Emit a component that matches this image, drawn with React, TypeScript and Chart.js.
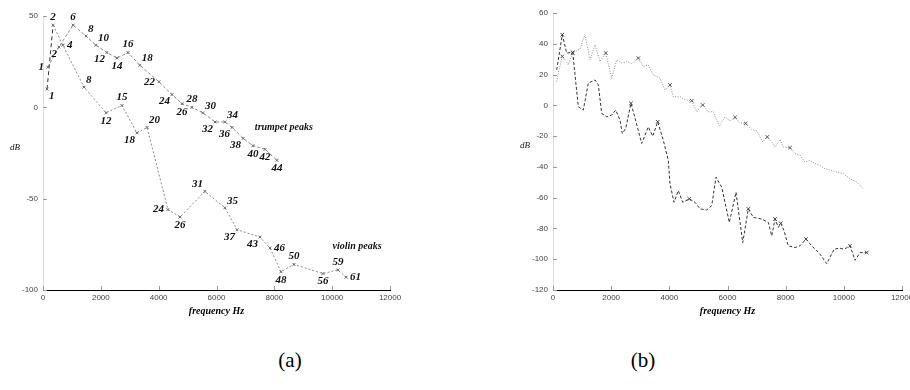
import React, { useEffect, useRef } from "react";
import { Chart, registerables } from "chart.js";
Chart.register(...registerables);

// ---------- (a) peak tracks ----------
const trumpetAFreq = [170, 550, 1040, 1490, 1830, 2210, 2560, 2940, 3350, 4010, 4460, 4810, 5150, 5530, 5950, 6290, 6540, 6920, 7260, 7680, 8090];
const trumpetADb = [22, 33, 45, 39, 34, 30, 27, 30, 23, 14, 7, 2, 0, -3, -8, -8, -11, -17, -21, -23, -29];
const trumpetAPeak = [1, 2, 6, 8, 10, 12, 14, 16, 18, 22, 24, 26, 28, 30, 32, 34, 36, 38, 40, 42, 44];
const trumpetASide = ["l", "bl", "a", "ar", "ar", "bl", "b", "a", "ar", "l", "bl", "b", "a", "ar", "bl", "ar", "bl", "bl", "b", "b", "b"];

const violinAFreq = [140, 350, 690, 1420, 2180, 2730, 3250, 3600, 4320, 4740, 5600, 6290, 6710, 7500, 7850, 8230, 8680, 9680, 10200, 10480];
const violinADb = [10, 45, 34, 11, -3, 1, -14, -11, -56, -60, -46, -55, -67, -71, -77, -90, -86, -91, -89, -93];
const violinAPeak = [1, 2, 4, 8, 12, 15, 18, 20, 24, 26, 31, 35, 37, 43, 46, 48, 50, 56, 59, 61];
const violinASide = ["br", "a", "r", "ar", "b", "a", "bl", "ar", "l", "b", "al", "ar", "bl", "bl", "r", "b", "a", "b", "a", "r"];

const seriesNamesA = ["trumpet peaks", "violin peaks"];
const seriesNameFreqA = [8330, 10860];
const seriesNameDbA = [-11, -76];

// ---------- (b) spectra ----------
const trumpetBFreq = [127, 206, 320, 413, 526, 677, 757, 928, 1100, 1272, 1444, 1616, 1812, 2019, 2191, 2362, 2534, 2706, 2933, 3105, 3277, 3449, 3680, 3851, 4023, 4137, 4367, 4539, 4770, 4942, 5148, 5341, 5512, 5719, 5915, 6087, 6259, 6431, 6627, 6833, 7005, 7211, 7369, 7521, 7634, 7806, 7920, 8150, 8322, 8494, 8666, 8838, 9010, 9181, 9353, 9584, 9756, 9983, 10213, 10444, 10671];
const trumpetBDb = [15.4, 23.1, 31.8, 29.6, 26.3, 34, 35, 36.6, 46, 29.6, 39.4, 28.5, 34, 17.6, 29.6, 27.5, 28.5, 27, 30.7, 25.2, 26.3, 19.8, 17.6, 10, 13.3, 5.6, 5.6, 3.5, 3, -4.2, 0.2, -4.2, -4.2, -13.5, -7.5, -10.1, -7.8, -11.4, -11.8, -15.7, -16.6, -23.8, -20.5, -23.8, -27.1, -22.2, -27.1, -27.5, -31.4, -32.5, -36.9, -35.8, -37.9, -39, -41.2, -42.3, -43.4, -44.4, -47.7, -49.9, -54.2];
const trumpetBMark = [0, 0, 1, 0, 0, 1, 0, 0, 0, 0, 0, 0, 1, 0, 0, 0, 0, 0, 1, 0, 0, 0, 0, 0, 1, 0, 0, 0, 1, 0, 1, 0, 0, 0, 0, 0, 1, 0, 1, 0, 0, 0, 1, 0, 0, 0, 0, 1, 0, 0, 0, 0, 0, 0, 0, 0, 0, 0, 0, 0, 0];

const violinBFreq = [127, 320, 471, 677, 870, 1042, 1214, 1444, 1558, 1675, 1847, 2019, 2156, 2304, 2383, 2500, 2682, 2854, 3050, 3277, 3428, 3600, 3793, 3965, 4023, 4161, 4309, 4460, 4687, 4883, 5055, 5286, 5457, 5605, 5801, 6063, 6293, 6524, 6716, 6888, 7177, 7404, 7521, 7634, 7748, 7830, 7944, 8091, 8322, 8494, 8700, 8896, 9182, 9412, 9663, 9845, 10007, 10213, 10385, 10557, 10787];
const violinBDb = [23.1, 45.9, 34, 34.4, -0.9, -3.1, 14.4, 16.5, 13.3, -5.2, -7.5, -6.3, -3.1, -9.6, -18.3, -15, 1.3, -10.7, -24.8, -14, -20.1, -10.7, -22.7, -35.8, -51, -63, -55.4, -63, -60.8, -63, -67.3, -68, -65.2, -46.7, -53.2, -76.1, -56.5, -89.2, -67.3, -72.8, -73.9, -76.1, -84.8, -73.9, -79.3, -76.7, -81.5, -91.3, -92.4, -91.3, -86.9, -91.3, -96.7, -102.9, -93.5, -92.8, -93.5, -91.3, -100.7, -95.7, -95.7];
const violinBMark = [0, 1, 0, 1, 0, 0, 0, 0, 0, 0, 0, 0, 0, 0, 0, 0, 1, 0, 0, 0, 0, 1, 0, 0, 0, 0, 0, 0, 1, 0, 0, 0, 0, 0, 0, 0, 0, 0, 1, 0, 0, 0, 0, 1, 0, 1, 0, 0, 0, 0, 1, 0, 0, 0, 0, 0, 0, 1, 0, 0, 1];

// ---------- axes ----------
const xTicks = [0, 2000, 4000, 6000, 8000, 10000, 12000];
const yTicksA = [-100, -50, 0, 50];
const yTicksB = [-120, -100, -80, -60, -40, -20, 0, 20, 40, 60];
const xTitle = "frequency Hz";
const yTitle = "dB";
const panelLabels = ["(a)", "(b)"];

const SANS = "'Liberation Sans', Arial, sans-serif";
const SERIF = "'Liberation Serif', 'Times New Roman', serif";

const toPts = (xs: number[], ys: number[]) => xs.map((x, i) => ({ x, y: ys[i] }));

const sideOffset = (side: string, w: number) => {
  const h = 7;
  switch (side) {
    case "a": return [0, -h - 1];
    case "b": return [0, h + 1];
    case "l": return [-(w / 2 + 4), 0];
    case "r": return [w / 2 + 4, 0];
    case "ar": return [w / 2 + 2, -h];
    case "al": return [-(w / 2 + 2), -h];
    case "bl": return [-(w / 2 + 2), h];
    case "br": return [w / 2 + 2, h];
  }
  return [0, 0];
};

const annotPlugin = {
  id: "annot",
  afterDatasetsDraw(chart: any) {
    const ctx = chart.ctx;
    ctx.save();
    ctx.fillStyle = "#111";
    ctx.textAlign = "center";
    ctx.textBaseline = "middle";
    chart.data.datasets.forEach((ds: any, i: number) => {
      if (!ds.peakIds) return;
      const meta = chart.getDatasetMeta(i);
      ctx.font = `italic bold 11px ${SERIF}`;
      ds.peakIds.forEach((id: number, j: number) => {
        const el = meta.data[j];
        const txt = String(id);
        const w = ctx.measureText(txt).width;
        const [dx, dy] = sideOffset(ds.peakSides[j], w);
        ctx.fillText(txt, el.x + dx, el.y + dy);
      });
    });
    const opts = chart.options.plugins.annot || {};
    const xs = chart.scales.x, ys = chart.scales.y;
    if (opts.names) {
      ctx.font = `italic bold 10px ${SERIF}`;
      opts.names.forEach((n: string, k: number) => {
        ctx.fillText(n, xs.getPixelForValue(opts.nameX[k]), ys.getPixelForValue(opts.nameY[k]));
      });
    }
    // y label
    const ca = chart.chartArea;
    ctx.font = `italic 9px ${SERIF}`;
    ctx.fillText(yTitle, ca.left - 28, ca.top + 0.48 * (ca.bottom - ca.top));
    // inner ticks
    ctx.strokeStyle = "#222";
    ctx.lineWidth = 1;
    ctx.beginPath();
    xs.ticks.forEach((t: any) => {
      const px = Math.round(xs.getPixelForValue(t.value)) + 0.5;
      ctx.moveTo(px, ca.bottom);
      ctx.lineTo(px, ca.bottom - 4);
    });
    ys.ticks.forEach((t: any) => {
      const py = Math.round(ys.getPixelForValue(t.value)) + 0.5;
      ctx.moveTo(ca.left, py);
      ctx.lineTo(ca.left + 4, py);
    });
    ctx.strokeStyle = "#999";
    ctx.stroke();
    ctx.restore();
  },
};

const makeScales = (yMin: number, yMax: number, yTicks: number[], yWidth: number) => ({
  x: {
    type: "linear",
    min: 0,
    max: 12000,
    afterBuildTicks: (s: any) => { s.ticks = xTicks.map((v) => ({ value: v })); },
    afterFit: (s: any) => { s.height = 30; },
    grid: { display: false, drawTicks: false },
    border: { display: true, color: "#000", width: 1 },
    ticks: { font: { family: SANS, size: 8 }, color: "#444", padding: 3, maxRotation: 0, callback: (v: any) => String(v) },
    title: { display: true, text: xTitle, font: { family: SERIF, size: 10, style: "italic", weight: "bold" }, color: "#000", padding: { top: 0, bottom: 3 } },
  },
  y: {
    type: "linear",
    min: yMin,
    max: yMax,
    afterBuildTicks: (s: any) => { s.ticks = yTicks.map((v) => ({ value: v })); },
    afterFit: (s: any) => { s.width = yWidth; },
    grid: { display: false, drawTicks: false },
    border: { display: true, color: "#ddd", width: 1 },
    ticks: { font: { family: SANS, size: 8 }, color: "#444", padding: 5, callback: (v: any) => String(v) },
  },
});

function ChartA() {
  const ref = useRef<HTMLCanvasElement>(null);
  useEffect(() => {
    const chart = new Chart(ref.current as HTMLCanvasElement, {
      type: "scatter",
      data: {
        datasets: [
          {
            label: "trumpet",
            data: toPts(trumpetAFreq, trumpetADb),
            showLine: true,
            borderColor: "#8a8a8a",
            borderWidth: 1,
            borderDash: [3, 2],
            pointStyle: "crossRot",
            pointRadius: 2,
            pointBorderColor: "#666",
            pointBorderWidth: 1,
            peakIds: trumpetAPeak,
            peakSides: trumpetASide,
          } as any,
          {
            label: "violin",
            data: toPts(violinAFreq, violinADb),
            showLine: true,
            borderColor: "#8a8a8a",
            borderWidth: 1,
            borderDash: [2, 2],
            segment: {
              borderDash: (c: any) => (c.p0DataIndex === 0 ? [4, 3] : undefined),
              borderColor: (c: any) => (c.p0DataIndex === 0 ? "#333" : undefined),
            },
            pointStyle: "crossRot",
            pointRadius: 2,
            pointBorderColor: "#666",
            pointBorderWidth: 1,
            peakIds: violinAPeak,
            peakSides: violinASide,
          } as any,
        ],
      },
      options: {
        responsive: false,
        animation: false,
        layout: { padding: { top: 16, right: 30, bottom: 10, left: 0 } },
        scales: makeScales(-100, 50, yTicksA, 43) as any,
        plugins: {
          legend: { display: false },
          tooltip: { enabled: false },
          annot: { names: seriesNamesA, nameX: seriesNameFreqA, nameY: seriesNameDbA },
        } as any,
      },
      plugins: [annotPlugin],
    });
    return () => chart.destroy();
  }, []);
  return <canvas ref={ref} width={420} height={330} style={{ position: "absolute", left: 0, top: 0, width: 420, height: 330 }} />;
}

function ChartB() {
  const ref = useRef<HTMLCanvasElement>(null);
  useEffect(() => {
    const chart = new Chart(ref.current as HTMLCanvasElement, {
      type: "scatter",
      data: {
        datasets: [
          {
            label: "trumpet",
            data: toPts(trumpetBFreq, trumpetBDb),
            showLine: true,
            borderColor: "#8c8c8c",
            borderWidth: 1,
            borderDash: [1, 1.5],
            pointStyle: "crossRot",
            pointRadius: (c: any) => (trumpetBMark[c.dataIndex] ? 2.5 : 0),
            pointBorderColor: "#555",
            pointBorderWidth: 1,
          } as any,
          {
            label: "violin",
            data: toPts(violinBFreq, violinBDb),
            showLine: true,
            borderColor: "#333",
            borderWidth: 1,
            borderDash: [3, 2],
            pointStyle: "crossRot",
            pointRadius: (c: any) => (violinBMark[c.dataIndex] ? 2.5 : 0),
            pointBorderColor: "#444",
            pointBorderWidth: 1,
          } as any,
        ],
      },
      options: {
        responsive: false,
        animation: false,
        layout: { padding: { top: 13, right: 28, bottom: 10, left: 0 } },
        scales: makeScales(-120, 60, yTicksB, 83) as any,
        plugins: { legend: { display: false }, tooltip: { enabled: false } },
      },
      plugins: [annotPlugin],
    });
    return () => chart.destroy();
  }, []);
  return <canvas ref={ref} width={460} height={330} style={{ position: "absolute", left: 470, top: 0, width: 460, height: 330 }} />;
}

export default function App() {
  const labelStyle = (cx: number): React.CSSProperties => ({
    position: "absolute",
    left: cx - 30,
    width: 60,
    top: 346,
    textAlign: "center",
    fontFamily: SERIF,
    fontSize: 21,
    lineHeight: "28px",
    color: "#000",
  });
  return (
    <div style={{ position: "absolute", left: 0, top: 0, width: 910, height: 390, overflow: "hidden", background: "#fff" }}>
      <ChartA />
      <ChartB />
      <div style={labelStyle(290)}>{panelLabels[0]}</div>
      <div style={labelStyle(643)}>{panelLabels[1]}</div>
    </div>
  );
}
